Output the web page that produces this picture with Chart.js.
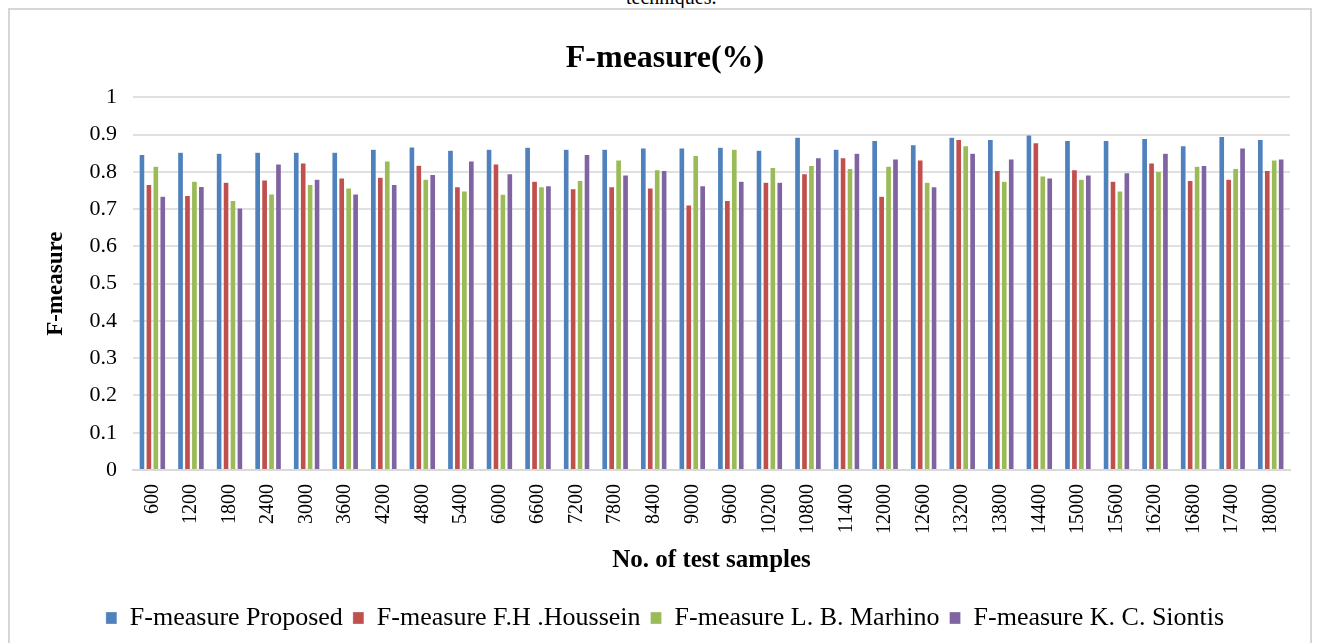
<!DOCTYPE html>
<html>
<head>
<meta charset="utf-8">
<script src="https://cdn.jsdelivr.net/npm/chart.js@4.4.1/dist/chart.umd.min.js"></script>
<style>
  html, body { margin: 0; padding: 0; background: #fff; overflow: hidden; }
  #wrap { position: absolute; left: 0; top: 0; width: 1318px; height: 643px; }
  #frame { position: absolute; left: 8px; top: 8px; width: 1300px; height: 650px;
           border: 2px solid #d6d6d6; pointer-events: none; }
  #caption { position: absolute; left: 626px; top: -14px; white-space: nowrap;
             font-family: "Liberation Serif", serif; font-size: 20px; color: #000; }
  #chart { position: absolute; left: 0; top: 0; }
</style>
</head>
<body>
<div id="wrap">
  <div id="caption">techniques.</div>
  <div id="frame"></div>
  <canvas id="chart" width="1318" height="643"></canvas>
</div>
<script>
// Number of test samples on the x axis
const samples = ['600','1200','1800','2400','3000','3600','4200','4800','5400','6000',
  '6600','7200','7800','8400','9000','9600','10200','10800','11400','12000',
  '12600','13200','13800','14400','15000','15600','16200','16800','17400','18000'];

// F-measure per method
const proposed = [0.847,0.853,0.850,0.853,0.853,0.853,0.861,0.867,0.858,0.861,
  0.866,0.861,0.861,0.864,0.864,0.866,0.858,0.893,0.861,0.884,
  0.873,0.893,0.887,0.899,0.884,0.884,0.890,0.870,0.895,0.887];
const houssein = [0.766,0.737,0.772,0.778,0.824,0.784,0.786,0.818,0.760,0.821,
  0.775,0.755,0.760,0.757,0.711,0.723,0.772,0.795,0.838,0.735,
  0.832,0.887,0.804,0.878,0.806,0.775,0.824,0.777,0.780,0.804];
const marhino = [0.815,0.775,0.723,0.741,0.766,0.757,0.829,0.780,0.749,0.740,
  0.760,0.777,0.832,0.806,0.844,0.861,0.812,0.817,0.809,0.815,
  0.772,0.870,0.775,0.789,0.780,0.749,0.801,0.815,0.809,0.832];
const siontis = [0.735,0.761,0.703,0.821,0.780,0.741,0.766,0.793,0.829,0.795,
  0.763,0.847,0.792,0.804,0.763,0.775,0.772,0.838,0.850,0.835,
  0.760,0.850,0.835,0.784,0.792,0.798,0.850,0.817,0.864,0.835];

const seriesNames = ['F-measure Proposed','F-measure F.H .Houssein','F-measure L. B. Marhino','F-measure K. C. Siontis'];
const seriesColors = ['#4F81BD','#C0504D','#9BBB59','#8064A2'];
const seriesData = [proposed, houssein, marhino, siontis];

const serif = '"Liberation Serif", "Times New Roman", serif';

new Chart(document.getElementById('chart'), {
  type: 'bar',
  data: {
    labels: samples,
    datasets: seriesData.map((d, i) => ({
      label: seriesNames[i],
      data: d,
      backgroundColor: seriesColors[i],
      borderColor: 'rgba(255,255,255,0.6)',
      borderWidth: 0.5,
      barPercentage: 0.82,
      categoryPercentage: 0.72
    }))
  },
  options: {
    responsive: false,
    animation: false,
    layout: { padding: { top: 40, left: 40, right: 28, bottom: 2 } },
    plugins: {
      title: {
        display: true,
        text: 'F-measure(%)',
        color: '#000',
        font: { family: serif, size: 32, weight: 'bold' },
        padding: { top: 0, bottom: 19 }
      },
      legend: {
        position: 'bottom',
        labels: {
          color: '#000',
          font: { family: serif, size: 26 },
          boxWidth: 11,
          boxHeight: 12,
          padding: 10
        }
      },
      tooltip: { enabled: false }
    },
    scales: {
      x: {
        grid: { display: false },
        border: { display: true, color: '#d9d9d9', width: 2 },
        ticks: {
          color: '#000',
          font: { family: serif, size: 20 },
          minRotation: 90, maxRotation: 90,
          autoSkip: false,
          padding: 6
        },
        title: {
          display: true,
          text: 'No. of test samples',
          color: '#000',
          font: { family: serif, size: 25, weight: 'bold' },
          padding: { top: 6, bottom: 19 }
        }
      },
      y: {
        min: 0, max: 1,
        grid: { color: '#e0e0e0', lineWidth: 2, drawTicks: false },
        border: { display: false },
        ticks: {
          stepSize: 0.1,
          color: '#000',
          font: { family: serif, size: 22 },
          padding: 16,
          callback: v => (v === 0 ? '0' : v === 1 ? '1' : v.toFixed(1))
        },
        title: {
          display: true,
          text: 'F-measure',
          color: '#000',
          font: { family: serif, size: 23, weight: 'bold' },
          padding: { top: 2, bottom: 4 }
        }
      }
    }
  }
});
</script>
</body>
</html>
